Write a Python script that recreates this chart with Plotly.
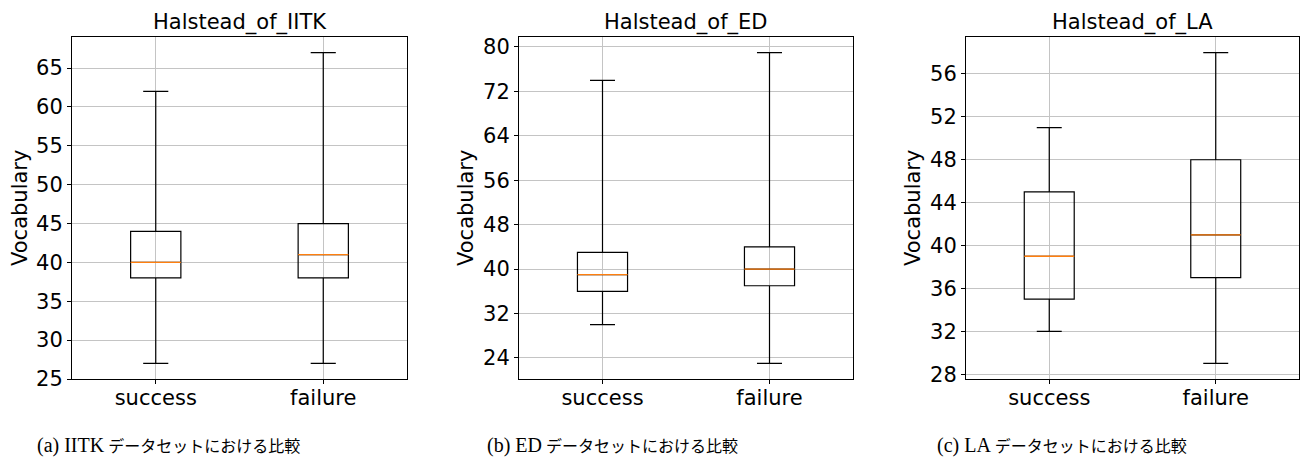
import plotly.graph_objects as go

categories = ["success", "failure"]
titles = ["Halstead_of_IITK", "Halstead_of_ED", "Halstead_of_LA"]
caption_heads = ["(a) IITK", "(b) ED", "(c) LA"]
caption_tail = "データセットにおける比較"
y_label = "Vocabulary"

# IITK
iitk_low = [27, 27]
iitk_q1 = [38, 38]
iitk_med = [40, 41]
iitk_q3 = [44, 45]
iitk_high = [62, 67]
# ED
ed_low = [30, 23]
ed_q1 = [36, 37]
ed_med = [39, 40]
ed_q3 = [43, 44]
ed_high = [74, 79]
# LA
la_low = [32, 29]
la_q1 = [35, 37]
la_med = [39, 41]
la_q3 = [45, 48]
la_high = [51, 58]

yticks_iitk = [25, 30, 35, 40, 45, 50, 55, 60, 65]
yticks_ed = [24, 32, 40, 48, 56, 64, 72, 80]
yticks_la = [28, 32, 36, 40, 44, 48, 52, 56]

datasets = [
    (iitk_low, iitk_q1, iitk_med, iitk_q3, iitk_high, yticks_iitk),
    (ed_low, ed_q1, ed_med, ed_q3, ed_high, yticks_ed),
    (la_low, la_q1, la_med, la_q3, la_high, yticks_la),
]

W, H = 1301, 457
x_px = [(72, 407), (519, 853), (966, 1299)]
y_px = (37, 379)
ylab_x = [20, 466, 913]
cap_x = [168, 612, 1062]

positions = [1, 2]
box_w = 0.3

fig = go.Figure()
FONT = "DejaVu Sans"
grid = "#c4c4c4"

for i, (low, q1, med, q3, high, yt) in enumerate(datasets):
    ax = "" if i == 0 else str(i + 1)
    for j, cat in enumerate(categories):
        fig.add_trace(go.Box(
            x=[positions[j]], q1=[q1[j]], median=[med[j]], q3=[q3[j]],
            lowerfence=[low[j]], upperfence=[high[j]],
            width=box_w, whiskerwidth=0.5, boxpoints=False,
            line=dict(color="black", width=1.2), fillcolor="rgba(0,0,0,0)",
            xaxis="x" + ax, yaxis="y" + ax, showlegend=False, hoverinfo="skip",
        ))
        fig.add_trace(go.Scatter(
            x=[positions[j] - box_w / 2, positions[j] + box_w / 2], y=[med[j], med[j]],
            mode="lines", line=dict(color="#ff7f0e", width=1.3),
            xaxis="x" + ax, yaxis="y" + ax, showlegend=False, hoverinfo="skip",
        ))
    lo = min(low); hi = max(high); m = (hi - lo) * 0.05
    x0, x1 = x_px[i]
    fig.layout["xaxis" + ax] = dict(
        domain=[x0 / W, x1 / W], range=[0.5, 2.5], tickvals=positions, ticktext=categories,
        showgrid=True, gridcolor=grid, gridwidth=1, zeroline=False,
        showline=True, mirror=True, linecolor="black", linewidth=1,
        ticks="outside", ticklen=4, tickcolor="black", automargin=False,
        ticklabelstandoff=-4,
        tickfont=dict(family=FONT, size=21, color="black"),
        anchor="y" + ax,
    )
    fig.layout["yaxis" + ax] = dict(
        domain=[(H - y_px[1]) / H, (H - y_px[0]) / H], range=[lo - m, hi + m], tickvals=yt,
        showgrid=True, gridcolor=grid, gridwidth=1, zeroline=False,
        showline=True, mirror=True, linecolor="black", linewidth=1,
        ticks="outside", ticklen=4, tickcolor="black", automargin=False,
        tickfont=dict(family=FONT, size=21, color="black"),
        anchor="x" + ax,
    )
    fig.add_annotation(text=titles[i], x=(x0 + x1) / 2 / W, y=(H - 22) / H, xref="paper", yref="paper",
                       showarrow=False, xanchor="center", yanchor="middle",
                       font=dict(family=FONT, size=21, color="black"))
    fig.add_annotation(text=y_label, x=ylab_x[i] / W, y=(H - 208) / H, xref="paper", yref="paper",
                       showarrow=False, xanchor="center", yanchor="middle", textangle=-90,
                       font=dict(family=FONT, size=21, color="black"))
    cap = ('<span style="font-size:20px">' + caption_heads[i] + '</span> ' + caption_tail)
    fig.add_annotation(text=cap, x=cap_x[i] / W, y=(H - 445) / H, xref="paper", yref="paper",
                       showarrow=False, xanchor="center", yanchor="middle",
                       font=dict(family="Liberation Serif, Noto Sans CJK JP", size=16, color="black"))

fig.update_layout(
    width=W, height=H, margin=dict(l=0, r=0, t=0, b=0, autoexpand=False),
    paper_bgcolor="white", plot_bgcolor="white", boxmode="overlay",
)

fig.write_html("out.html", config={"displayModeBar": False},
               post_script="document.body.style.margin='0px';")
